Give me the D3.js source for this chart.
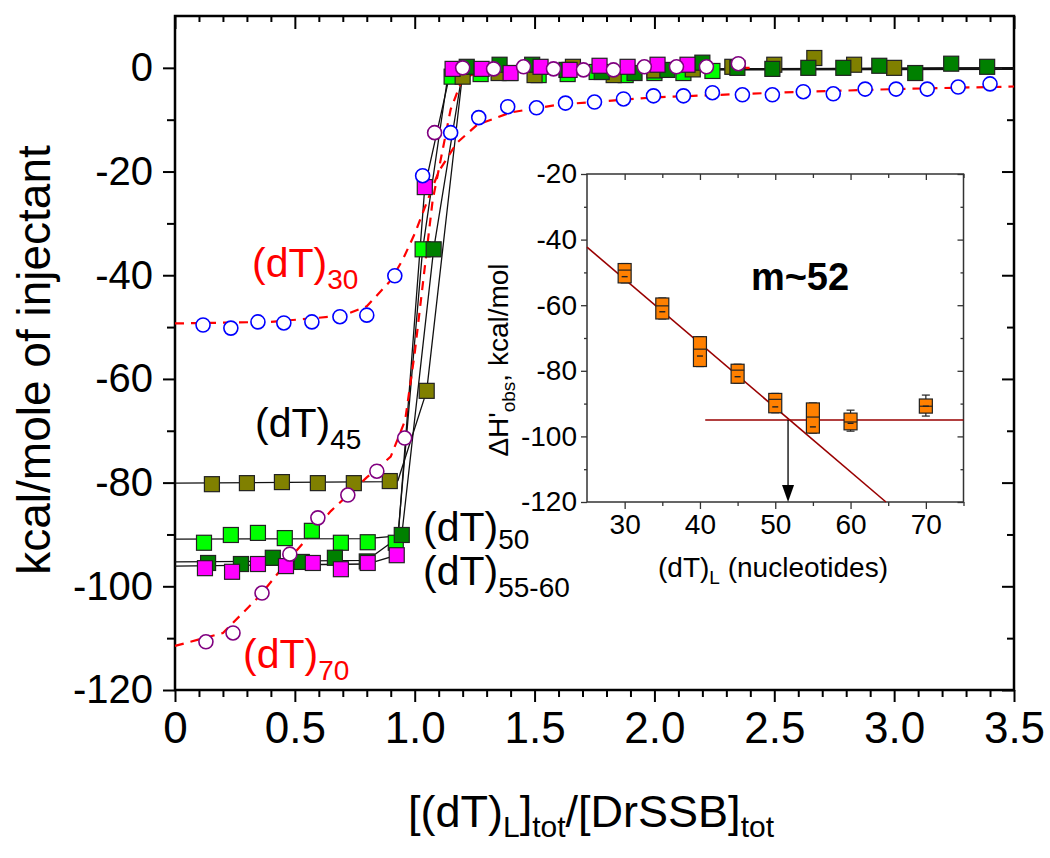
<!DOCTYPE html>
<html>
<head>
<meta charset="utf-8">
<script src="https://cdn.jsdelivr.net/npm/d3@7"></script>
<style>
body { margin: 0; background: #fff; }
text { font-family: "Liberation Sans", Arial, sans-serif; }
</style>
</head>
<body>
<svg id="chart" width="1050" height="858"></svg>
<script>
// ---- main panel data: [(dT)L]tot/[DrSSB]tot vs kcal/mole of injectant ----
const dT30X = [0.117,0.233,0.346,0.454,0.571,0.688,0.8,0.917,1.033,1.15,1.267,1.388,1.508,1.629,1.75,1.871,1.996,2.121,2.242,2.367,2.492,2.621,2.746,2.879,3.008,3.138,3.267,3.4];
const dT30Y = [-49.6,-50.2,-49.0,-49.2,-49.0,-48.0,-47.7,-40.1,-20.8,-12.5,-9.6,-7.5,-7.7,-6.8,-6.6,-6.0,-5.4,-5.4,-4.8,-5.2,-5.2,-4.6,-5.0,-4.1,-4.1,-4.1,-3.7,-3.1];

const dT70X = [0.129,0.242,0.363,0.479,0.596,0.721,0.842,0.958,1.083,1.2,1.329,1.454,1.579,1.704,1.829,1.958,2.092,2.217,2.35];
const dT70Y = [-110.7,-109.0,-101.3,-93.8,-86.8,-82.4,-77.8,-71.4,-12.5,0,-0.2,0.2,-0.2,-0.4,-0.4,0.2,0.2,0.2,0.8];

const dT45X = [0.154,0.3,0.446,0.596,0.746,0.896,1.05,1.2,1.35,1.5,1.66,1.83,2.0,2.16,2.325,2.5,2.667,2.833,3.0];
const dT45Y = [-80.3,-80.1,-79.9,-80.1,-80.1,-79.7,-62.3,-1.7,-1.0,-1.4,0.2,-1.4,-0.5,-0.3,0.2,0.6,1.9,0.6,0];

const dT50X = [0.121,0.233,0.346,0.458,0.571,0.692,0.804,0.921,1.033,1.154,1.275,1.396,1.517,1.638,1.759,1.88,2.0,2.121,2.242];
const dT50Y = [-91.6,-90.1,-89.7,-90.7,-89.3,-91.6,-91.5,-91.6,-35,-1.7,-1.2,-1.0,-1.4,-1.2,-0.8,-1.4,-1.0,-1.0,-0.6];

const dT60X = [0.138,0.275,0.408,0.529,0.667,0.8,0.946,1.079,1.217,1.354,1.49,1.633,1.78,1.917,2.054,2.2,2.346,2.492,2.642,2.788,2.938,3.088,3.238,3.388];
const dT60Y = [-95.5,-95.7,-94.5,-95.3,-94.5,-95.2,-90.1,-35,0.2,0.6,0.6,-0.4,-0.8,-1.0,-0.4,1.0,0,-0.2,0,0,0.4,-1.0,0.8,0.2];

const dT55X = [0.125,0.238,0.346,0.463,0.575,0.692,0.804,0.925,1.042,1.158,1.279,1.4,1.525,1.646,1.771,1.888,2.013,2.138];
const dT55Y = [-96.5,-97.2,-95.7,-96.1,-95.5,-96.7,-95.5,-94.0,-23,-0.2,-0.2,-1.0,0.2,-0.4,0.4,0.2,0.6,0.6];

// fitted curves
const fit30 = [[0,-49.3],[0.4,-49],[0.7,-47.8],[0.8,-46],[0.9,-41],[0.95,-37],[1.0,-32],[1.05,-26],[1.1,-20],[1.175,-14.5],[1.26,-11],[1.4,-8.6],[1.6,-7.1],[2.0,-5.7],[2.5,-4.8],[3.0,-4.1],[3.5,-3.6]];
const fit70 = [[0,-111.5],[0.2,-109],[0.35,-102],[0.5,-93.5],[0.65,-85.5],[0.8,-79],[0.9,-75],[0.96,-68],[1.0,-55],[1.075,-25.5],[1.15,-8],[1.2,-2],[1.3,-0.3],[1.5,0],[2.4,0]];
const fit45 = [[0,-80.1],[0.9,-79.8],[0.93,-79.6],[1.05,-62.3],[1.2,-1],[1.4,-0.3],[3.5,0]];
const fit50 = [[0,-90.9],[0.8,-90.8],[0.93,-90.3],[1.033,-35],[1.14,-1],[1.3,-0.5],[3.5,-0.3]];
const fit60 = [[0,-95.3],[0.8,-95],[0.946,-90.1],[1.079,-35],[1.2,-0.5],[3.5,0]];
const fit55 = [[0,-96.1],[0.8,-95.7],[0.925,-94],[1.042,-23],[1.15,-0.5],[3.5,0]];

const xMajor = [0,0.5,1.0,1.5,2.0,2.5,3.0,3.5];
const yMajor = [-120,-100,-80,-60,-40,-20,0];

// ---- inset data: box summaries of dH'obs vs (dT)L ----
const insetL = [30,35,40,45,50,55,60,70];
const insetHi = [-47.3,-57.8,-69.6,-78.0,-86.9,-89.8,-92.0,-87.4];
const insetQ3 = [-47.3,-57.8,-69.6,-78.0,-86.9,-89.8,-92.9,-88.6];
const insetMed = [-49.3,-60.2,-73.4,-79.8,-88.7,-94.1,-95.6,-90.8];
const insetMean = [-51.3,-62.0,-75.5,-81.8,-91.0,-97.1,-96.0,-90.8];
const insetQ1 = [-53.2,-64.2,-78.7,-83.8,-92.8,-99.0,-98.0,-92.9];
const insetLo = [-53.2,-64.2,-78.7,-83.8,-92.8,-99.0,-98.4,-93.8];
const insetSlope = [[25,-42.3],[64.7,-120]];
const insetFlat = [[40.7,-95],[75,-95]];
const insetM = 51.7;
const insetXTicks = [30,40,50,60,70];
const insetYTicks = [-120,-100,-80,-60,-40,-20];

const svg = d3.select("#chart");
const x = d3.scaleLinear().domain([0,3.5]).range([175,1014]);
const y = d3.scaleLinear().domain([-120,10]).range([690,16]);
const line = d3.line().x(d => x(d[0])).y(d => y(d[1]));
const zip = (a,b) => a.map((v,i) => [v,b[i]]);
const plain = d => String(d);   // keep the ascii hyphen as minus sign

// axes
function minorTicks(lo, hi, step, skip) {
  const out = [];
  for (let v = lo; v <= hi + 1e-9; v += step) {
    const r = Math.round(v*100)/100;
    if (!skip.some(s => Math.abs(s-r) < 1e-6)) out.push(r);
  }
  return out;
}
const xMinor = minorTicks(0, 3.5, 0.1, xMajor);
const yMinor = minorTicks(-120, 0, 10, yMajor);

function styleAxis(g) {
  g.select(".domain").remove();
  g.selectAll(".tick line").attr("stroke","#000").attr("stroke-width",2);
}
const fmtX = d => d === 0 ? "0" : d3.format(".1f")(d);

svg.append("g").attr("transform","translate(0,690)")
  .call(d3.axisBottom(x).tickValues(xMajor).tickSize(12).tickPadding(10).tickFormat(fmtX))
  .call(styleAxis)
  .selectAll("text").attr("font-size",44).attr("fill","#000")
  .style("font-family","'Liberation Sans Narrow','Arial Narrow',sans-serif");
svg.append("g").attr("transform","translate(0,690)")
  .call(d3.axisBottom(x).tickValues(xMinor).tickSize(7).tickFormat("")).call(styleAxis);
svg.append("g").attr("transform","translate(0,16)")
  .call(d3.axisTop(x).tickValues(xMajor).tickSize(-13).tickFormat("")).call(styleAxis);
svg.append("g").attr("transform","translate(0,16)")
  .call(d3.axisTop(x).tickValues(xMinor).tickSize(-6).tickFormat("")).call(styleAxis);
svg.append("g").attr("transform","translate(175,0)")
  .call(d3.axisLeft(y).tickValues(yMajor).tickSize(12).tickPadding(10).tickFormat(plain))
  .call(styleAxis)
  .selectAll("text").attr("font-size",40).attr("fill","#000");
svg.append("g").attr("transform","translate(175,0)")
  .call(d3.axisLeft(y).tickValues(yMinor).tickSize(8).tickFormat("")).call(styleAxis);
svg.append("g").attr("transform","translate(1014,0)")
  .call(d3.axisRight(y).tickValues(yMajor).tickSize(-12).tickFormat("")).call(styleAxis);
svg.append("g").attr("transform","translate(1014,0)")
  .call(d3.axisRight(y).tickValues(yMinor).tickSize(-7).tickFormat("")).call(styleAxis);

svg.append("rect").attr("x",175).attr("y",16).attr("width",1014-175).attr("height",690-16)
  .attr("fill","none").attr("stroke","#000").attr("stroke-width",2.5);

// axis titles
svg.append("text").attr("transform","translate(50,360) rotate(-90)")
  .attr("text-anchor","middle").attr("font-size",46).text("kcal/mole of injectant");
const xt = svg.append("text").attr("x",591).attr("y",827).attr("text-anchor","middle").attr("font-size",45);
xt.append("tspan").text("[(dT)");
xt.append("tspan").attr("font-size",30).attr("dy",10).text("L");
xt.append("tspan").attr("dy",-10).text("]");
xt.append("tspan").attr("font-size",30).attr("dy",10).text("tot");
xt.append("tspan").attr("dy",-10).text("/[DrSSB]");
xt.append("tspan").attr("font-size",30).attr("dy",10).text("tot");

// fits
const fitsBlack = [fit50, fit45, fit60, fit55];
svg.append("g").selectAll("path").data(fitsBlack).join("path")
  .attr("d", line).attr("fill","none").attr("stroke","#111").attr("stroke-width",1.3);
svg.append("g").selectAll("path").data([fit30, fit70]).join("path")
  .attr("d", line).attr("fill","none").attr("stroke","#ff0000").attr("stroke-width",2.2)
  .attr("stroke-dasharray","9,7");

// squares
const squareSets = [
  {pts: zip(dT50X,dT50Y), fill:"#00ff00"},
  {pts: zip(dT45X,dT45Y), fill:"#808000"},
  {pts: zip(dT60X,dT60Y), fill:"#008000"},
  {pts: zip(dT55X,dT55Y), fill:"#ff00ff"}
];
const sq = 15;
squareSets.forEach(s => {
  svg.append("g").selectAll("rect").data(s.pts).join("rect")
    .attr("x", d => x(d[0]) - sq/2).attr("y", d => y(d[1]) - sq/2)
    .attr("width", sq).attr("height", sq)
    .attr("fill", s.fill).attr("stroke","#222").attr("stroke-width",1.2);
});

// circles
[{pts: zip(dT30X,dT30Y), stroke:"#0000ff"}, {pts: zip(dT70X,dT70Y), stroke:"#800080"}].forEach(s => {
  svg.append("g").selectAll("circle").data(s.pts).join("circle")
    .attr("cx", d => x(d[0])).attr("cy", d => y(d[1])).attr("r",7)
    .attr("fill","#fff").attr("stroke", s.stroke).attr("stroke-width",1.6);
});

// series labels
function seriesLabel(px, py, main, sub, color, subDy) {
  const t = svg.append("text").attr("x",px).attr("y",py).attr("font-size",41).attr("fill",color);
  t.append("tspan").text(main);
  t.append("tspan").attr("font-size",28).attr("dy",subDy).text(sub);
}
seriesLabel(252, 277, "(dT)", "30", "#ff0000", 12);
seriesLabel(255, 437, "(dT)", "45", "#000", 12);
seriesLabel(423, 541, "(dT)", "50", "#000", 8);
seriesLabel(423, 585, "(dT)", "55-60", "#000", 12);
seriesLabel(243, 668, "(dT)", "70", "#ff0000", 12);

// ---- inset ----
const xi = d3.scaleLinear().domain([25,75]).range([587,963.5]);
const yi = d3.scaleLinear().domain([-120,-20]).range([502,174]);
const lineI = d3.line().x(d => xi(d[0])).y(d => yi(d[1]));
const inset = svg.append("g");
inset.append("rect").attr("x",587).attr("y",174).attr("width",963.5-587).attr("height",502-174)
  .attr("fill","#fff");

function styleInset(g) {
  g.select(".domain").remove();
  g.selectAll(".tick line").attr("stroke","#333").attr("stroke-width",1.3);
}
const insetXMinor = [35,45,55,65,75];
const insetYMinor = [-110,-90,-70,-50,-30];
inset.append("g").attr("transform","translate(0,502)")
  .call(d3.axisBottom(xi).tickValues(insetXTicks).tickSize(7).tickPadding(5).tickFormat(plain))
  .call(styleInset).selectAll("text").attr("font-size",28).attr("fill","#000");
inset.append("g").attr("transform","translate(0,502)")
  .call(d3.axisBottom(xi).tickValues(insetXMinor).tickSize(4).tickFormat("")).call(styleInset);
inset.append("g").attr("transform","translate(0,174)")
  .call(d3.axisTop(xi).tickValues(insetXTicks).tickSize(-6).tickFormat("")).call(styleInset);
inset.append("g").attr("transform","translate(0,174)")
  .call(d3.axisTop(xi).tickValues(insetXMinor).tickSize(-4).tickFormat("")).call(styleInset);
inset.append("g").attr("transform","translate(587,0)")
  .call(d3.axisLeft(yi).tickValues(insetYTicks).tickSize(6).tickPadding(4).tickFormat(plain))
  .call(styleInset).selectAll("text").attr("font-size",28).attr("fill","#000");
inset.append("g").attr("transform","translate(587,0)")
  .call(d3.axisLeft(yi).tickValues(insetYMinor).tickSize(3).tickFormat("")).call(styleInset);
inset.append("g").attr("transform","translate(963.5,0)")
  .call(d3.axisRight(yi).tickValues(insetYTicks).tickSize(-6).tickFormat("")).call(styleInset);
inset.append("g").attr("transform","translate(963.5,0)")
  .call(d3.axisRight(yi).tickValues(insetYMinor).tickSize(-3).tickFormat("")).call(styleInset);
inset.append("rect").attr("x",587).attr("y",174).attr("width",963.5-587).attr("height",502-174)
  .attr("fill","none").attr("stroke","#333").attr("stroke-width",1.5);

// fit lines
inset.append("path").attr("d", lineI(insetSlope)).attr("stroke","#990000").attr("stroke-width",1.6).attr("fill","none");
inset.append("path").attr("d", lineI(insetFlat)).attr("stroke","#990000").attr("stroke-width",1.6).attr("fill","none");

// boxes
const bw = 13;
const boxes = insetL.map((L,i) => ({L, hi:insetHi[i], q3:insetQ3[i], med:insetMed[i], mean:insetMean[i], q1:insetQ1[i], lo:insetLo[i]}));
const bg = inset.append("g").selectAll("g").data(boxes).join("g");
bg.append("line").attr("x1", d => xi(d.L)).attr("x2", d => xi(d.L))
  .attr("y1", d => yi(d.hi)).attr("y2", d => yi(d.lo)).attr("stroke","#222").attr("stroke-width",1.2);
bg.append("line").attr("x1", d => xi(d.L)-4).attr("x2", d => xi(d.L)+4)
  .attr("y1", d => yi(d.hi)).attr("y2", d => yi(d.hi)).attr("stroke","#222").attr("stroke-width",1.2);
bg.append("line").attr("x1", d => xi(d.L)-4).attr("x2", d => xi(d.L)+4)
  .attr("y1", d => yi(d.lo)).attr("y2", d => yi(d.lo)).attr("stroke","#222").attr("stroke-width",1.2);
bg.append("rect").attr("x", d => xi(d.L)-bw/2).attr("y", d => yi(d.q3))
  .attr("width", bw).attr("height", d => yi(d.q1)-yi(d.q3))
  .attr("fill","#ff8000").attr("stroke","#222").attr("stroke-width",1.2);
bg.append("line").attr("x1", d => xi(d.L)-bw/2).attr("x2", d => xi(d.L)+bw/2)
  .attr("y1", d => yi(d.med)).attr("y2", d => yi(d.med)).attr("stroke","#222").attr("stroke-width",1.2);
bg.append("line").attr("x1", d => xi(d.L)-3).attr("x2", d => xi(d.L)+3)
  .attr("y1", d => yi(d.mean)).attr("y2", d => yi(d.mean)).attr("stroke","#222").attr("stroke-width",1.4);

// arrow at the break point
inset.append("line").attr("x1", xi(insetM)).attr("x2", xi(insetM))
  .attr("y1", yi(insetFlat[0][1])).attr("y2", yi(-120)-14).attr("stroke","#000").attr("stroke-width",1.3);
inset.append("path")
  .attr("d", `M${xi(insetM)-6},${yi(-120)-17} L${xi(insetM)+6},${yi(-120)-17} L${xi(insetM)},${yi(-120)} Z`)
  .attr("fill","#000");

inset.append("text").attr("x",800).attr("y",290).attr("text-anchor","middle")
  .attr("font-size",38).attr("font-weight","bold").text("m~52");

const iyt = inset.append("text").attr("transform","translate(508,360) rotate(-90)")
  .attr("text-anchor","middle").attr("font-size",28);
iyt.append("tspan").text("\u0394H'");
iyt.append("tspan").attr("font-size",19).attr("dy",7).text("obs");
iyt.append("tspan").attr("dy",-7).text(", kcal/mol");

const ixt = inset.append("text").attr("x",773).attr("y",577).attr("text-anchor","middle").attr("font-size",28);
ixt.append("tspan").text("(dT)");
ixt.append("tspan").attr("font-size",19).attr("dy",7).text("L");
ixt.append("tspan").attr("dy",-7).text(" (nucleotides)");
</script>
</body>
</html>
